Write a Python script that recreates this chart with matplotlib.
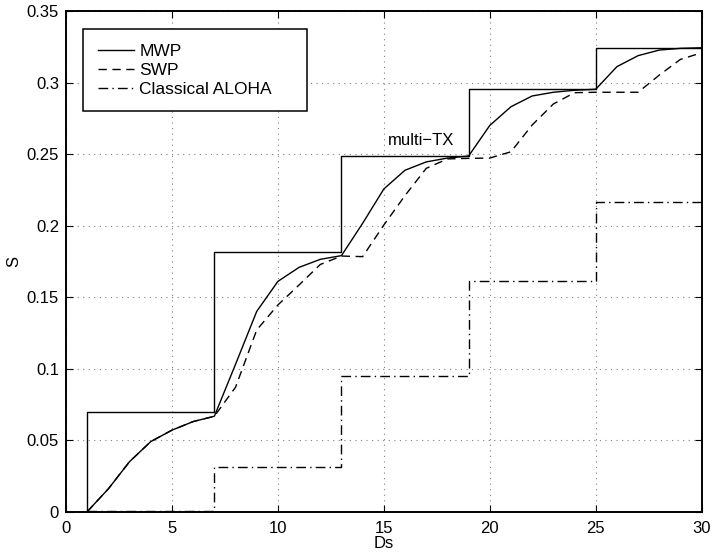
import matplotlib
matplotlib.use("Agg")
import matplotlib.pyplot as plt
from matplotlib.patches import Rectangle
import numpy as np

plt.rcParams['font.family'] = ['Liberation Sans', 'DejaVu Sans']

# Data
ds = list(range(1, 31))
mwp = [0.0, 0.016, 0.035, 0.049, 0.057, 0.063, 0.0667, 0.103, 0.140, 0.161,
       0.1708, 0.1764, 0.179, 0.2016, 0.2256, 0.2387, 0.2445, 0.2472, 0.2486, 0.2700,
       0.2831, 0.2906, 0.2932, 0.2946, 0.2953, 0.3111, 0.3188, 0.3227, 0.3239, 0.3243]
swp = [0.0, 0.016, 0.035, 0.049, 0.057, 0.063, 0.0667, 0.087, 0.127, 0.1445,
       0.1585, 0.1728, 0.1787, 0.1783, 0.2004, 0.221, 0.2400, 0.2466, 0.2470, 0.2472,
       0.2516, 0.2703, 0.2850, 0.2929, 0.2932, 0.2932, 0.2932, 0.3052, 0.3162, 0.3208]

# Upper bound staircase (multi-TX) and classical ALOHA staircase
step_x = [1, 7, 13, 19, 25, 30]
multi_tx = [0.0695, 0.1815, 0.2485, 0.2953, 0.3243, 0.3243]
aloha = [0.0005, 0.031, 0.0951, 0.1613, 0.2167, 0.2167]

xticks = [0, 5, 10, 15, 20, 25, 30]
yticks = [0, 0.05, 0.1, 0.15, 0.2, 0.25, 0.3, 0.35]
ytick_labels = ['0', '0.05', '0.1', '0.15', '0.2', '0.25', '0.3', '0.35']

fig = plt.figure(figsize=(7.12, 5.53), dpi=100)
ax = fig.add_axes([0.0927, 0.0747, 0.8928, 0.9054])

lw = 1.0
ax.plot(ds, mwp, color='k', lw=lw, linestyle='-', label='MWP')
ax.plot(ds, swp, color='k', lw=lw, linestyle=(0, (6, 4)), label='SWP')
ax.plot([1, 1] + step_x[1:], [0, multi_tx[0]] + multi_tx[:-1], color='k', lw=lw,
        drawstyle='steps-pre', linestyle='-')
ax.plot(step_x, aloha, color='k', lw=lw, linestyle=(0, (7, 3, 1, 3)),
        drawstyle='steps-post', label='Classical ALOHA')

ax.text(15.2, 0.2598, 'multi\u2212TX', fontsize=12, ha='left', va='center')

ax.set_xlim(0, 30)
ax.set_ylim(0, 0.35)
ax.set_xticks(xticks)
ax.set_yticks(yticks)
ax.set_yticklabels(ytick_labels)
ax.tick_params(direction='in', length=5, width=0.8, labelsize=12,
               top=True, right=True)
ax.tick_params(axis='x', pad=7)
ax.tick_params(axis='y', pad=5)
ax.grid(True, color='0.5', linestyle=(0, (1, 4)), lw=0.8)
for sp in ax.spines.values():
    sp.set_linewidth(1.4)

ax.set_xlabel('Ds', fontsize=12, labelpad=0)
ax.set_ylabel('S', fontsize=12, labelpad=4)

# Legend with MATLAB-like box
rect = Rectangle((0.0267, 0.7995), 0.3525, 0.1645, transform=ax.transAxes,
                 facecolor='white', edgecolor='k', lw=1.1, zorder=4)
ax.add_patch(rect)
leg = ax.legend(loc='upper left', bbox_to_anchor=(0.0267, 0.964), frameon=False,
                fontsize=12.5, handlelength=2.1, handletextpad=0.3,
                labelspacing=0.22, borderaxespad=0.0, borderpad=0.85)
leg.set_zorder(5)

fig.savefig('out.png', dpi=100)
